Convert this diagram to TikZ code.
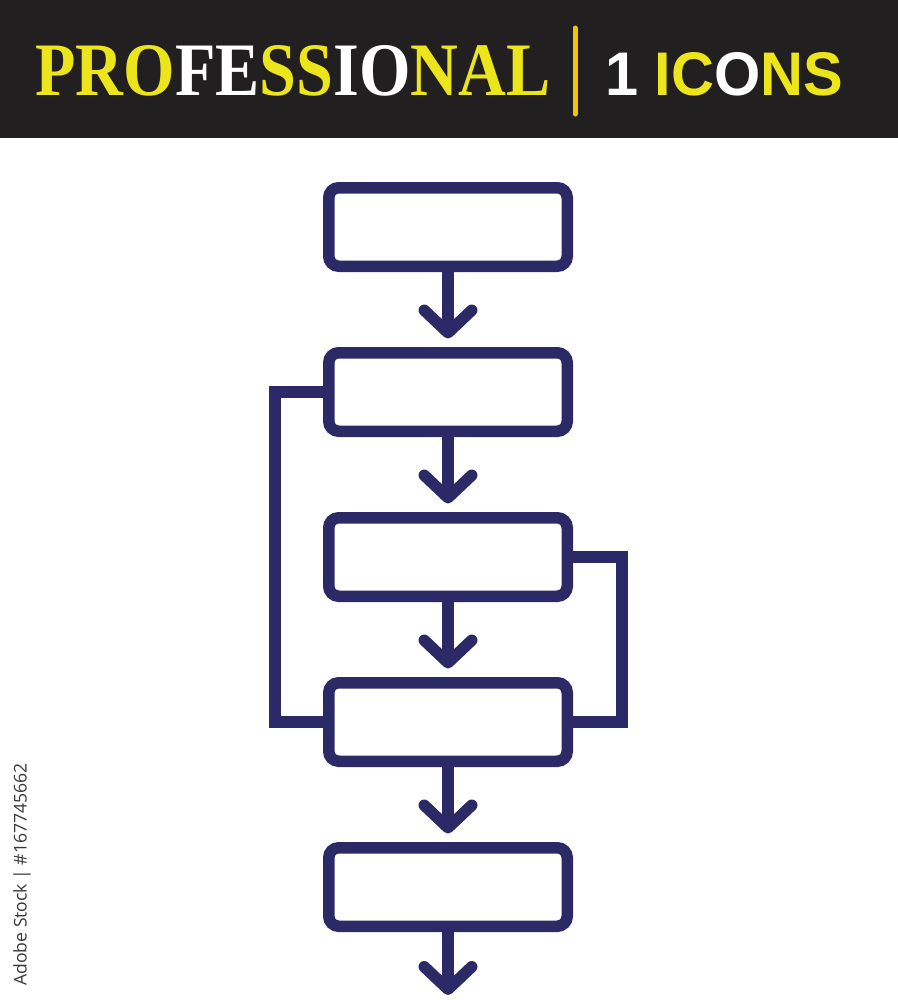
\documentclass[tikz,border=0pt]{standalone}
\usepackage{fontspec}
\usepackage{graphicx}
\usetikzlibrary{arrows.meta, positioning}
\newfontfamily\bannerserif{Liberation Serif}
\newfontfamily\bannersans{Liberation Sans}
\newfontfamily\stampfont{Open Sans}
\definecolor{navyline}{HTML}{2B2966}
\definecolor{bannerbg}{HTML}{211F1F}
\definecolor{bannerylw}{HTML}{EDE51B}
\definecolor{barylw}{HTML}{F4C300}
\newcommand{\ylw}[1]{\textcolor{bannerylw}{#1}}
\newcommand{\wht}[1]{\textcolor{white}{#1}}

\begin{document}
\begin{tikzpicture}
            [
            stepbox/.style={
                rectangle,
                draw=navyline,
                line width=0.23cm,
                rounded corners=0.2cm,
                minimum width=4.77cm,
                minimum height=1.57cm
            },
            flow/.style={
                -{Straight Barb[length=0.45cm, width=0.95cm, round]},
                draw=navyline,
                line width=0.23cm,
                shorten >=0.17cm
            },
            loopline/.style={
                draw=navyline,
                line width=0.23cm
            }
            ]
            \useasboundingbox (0,0) rectangle (17.96,-20);

            % black banner with the title
            \fill[bannerbg] (0,0) rectangle (17.96,-2.76);
            \node (title) [anchor=base west, inner sep=0] at (0.7,-1.9) {\resizebox{10.3cm}{1cm}{\bannerserif\bfseries \ylw{PRO}\wht{FE}\ylw{SS}\wht{IO}\ylw{NAL}}};
            \coordinate (bartop) at (11.5,-0.56);
            \coordinate (barbot) at (11.5,-2.28);
            \draw[barylw, line width=0.1cm, line cap=round] (bartop) -- (barbot);
            \node (count) [anchor=base west, inner sep=0] at (12.1,-1.9) {\resizebox{4.76cm}{0.86cm}{\bannersans\bfseries \wht{1} \ylw{IC}\wht{O}\ylw{NS}}};

            % flowchart steps, stacked vertically
            \node (A) [stepbox] at (8.96,-4.54) {};
            \node (B) [stepbox, below=1.5cm of A] {};
            \node (C) [stepbox, below=1.5cm of B] {};
            \node (D) [stepbox, below=1.5cm of C] {};
            \node (E) [stepbox, below=1.5cm of D] {};
            \coordinate (exit) at (8.96,-19.9);

            % arrows between the steps
            \draw[flow] (A) -- (B);
            \draw[flow] (B) -- (C);
            \draw[flow] (C) -- (D);
            \draw[flow] (D) -- (E);
            \draw[flow, shorten >=0pt] (E) -- (exit);

            % side loops
            \draw[loopline] (B.west) -- ++(-0.96,0) |- (D.west);
            \draw[loopline] (C.east) -- ++(0.98,0) |- (D.east);

            % stock number along the left edge
            \node (stamp) [rotate=90, anchor=west, inner sep=0, text=black!78] at (0.44,-19.72) {\stampfont\fontsize{10pt}{12pt}\selectfont Adobe Stock | \#167745662};

        \end{tikzpicture}
\end{document}
